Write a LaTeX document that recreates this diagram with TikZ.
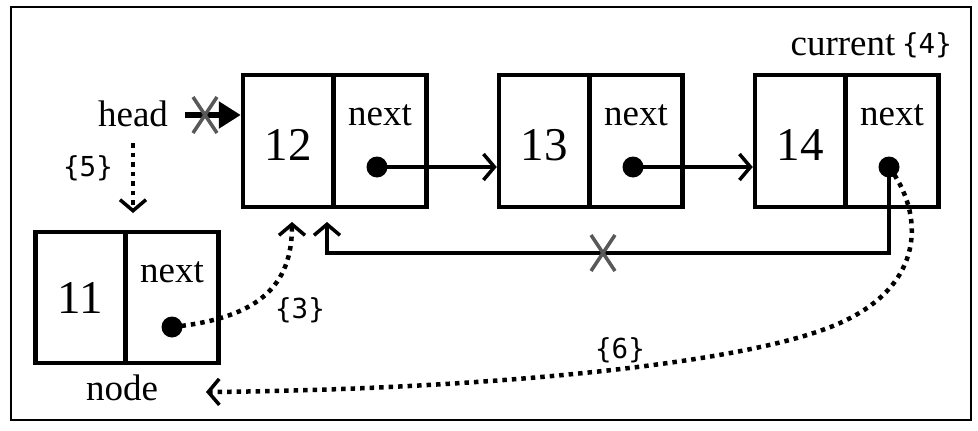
\documentclass[tikz,border=0pt]{standalone}
\usepackage{fontspec}
\setmainfont{Liberation Serif}
\newfontfamily\monof{DejaVu Sans Mono}
\usetikzlibrary{arrows.meta}
\begin{document}
\begin{tikzpicture}[x=1pt,y=-1pt,
  cell/.style={draw,line width=4.5pt,minimum height=132pt,inner sep=0pt},
  vcell/.style={cell,minimum width=90pt},
  ncell/.style={cell,minimum width=93pt},
  txt/.style={inner sep=0pt,font=\fontsize{37}{40}\selectfont},
  num/.style={inner sep=0pt,font=\fontsize{47}{50}\selectfont},
  mono/.style={inner sep=0pt,font=\monof\fontsize{27.5}{30}\selectfont},
  dot/.style={circle,fill=black,minimum size=21pt,inner sep=0pt},
  link/.style={line width=3.5pt,-{Straight Barb[length=11pt,width=26pt,line width=3.5pt]}},
  dotlink/.style={line width=4.5pt,dash pattern=on 4.5pt off 5pt,-{Straight Barb[length=11pt,width=26pt,line width=3.5pt]}},
  cross/.style={line width=3.5pt,draw=black!65}
]
\useasboundingbox (0,0) rectangle (978,431);
\draw[line width=2pt] (11,7) rectangle (971,420);

% node 12
\node[vcell] (v12) at (288,141) {};
\node[ncell] (p12) at (380,141) {};
\node[num] (t12) at (288,145) {12};
\node[txt] (x12) at (380,115) {next};
\node[dot] (d12) at (377,167) {};
% node 13
\node[vcell] (v13) at (544,141) {};
\node[ncell] (p13) at (636,141) {};
\node[num] (t13) at (544,145) {13};
\node[txt] (x13) at (636,115) {next};
\node[dot] (d13) at (633,167) {};
% node 14
\node[vcell] (v14) at (800,141) {};
\node[ncell] (p14) at (892,141) {};
\node[num] (t14) at (800,145) {14};
\node[txt] (x14) at (892,115) {next};
\node[dot] (d14) at (889,167) {};
% node 11
\node[vcell,minimum height=131pt] (v11) at (80.5,297.5) {};
\node[ncell,minimum height=131pt] (p11) at (172,297.5) {};
\node[num] (t11) at (80,298) {11};
\node[txt] (x11) at (172,272) {next};
\node[dot] (d11) at (172,327) {};

% labels
\node[txt] (head) at (133,114) {head};
\node[txt] (nodelbl) at (122,388) {node};
\node[txt] (cur) at (843,45) {current};
\node[mono] (l4) at (927,45) {\{4\}};
\node[mono] (l5) at (88,168) {\{5\}};
\node[mono] (l3) at (300,310) {\{3\}};
\node[mono] (l6) at (620,350) {\{6\}};

\coordinate (hs) at (185,115);
\coordinate (ret) at (327,222);
\coordinate (c5s) at (133,143);
\coordinate (c5e) at (133,213);
\coordinate (c3e) at (292,222);
\coordinate (c6m) at (840,323);
\coordinate (c6e) at (206,392);

% links
\draw[link] (d12.center) -- (v13.west |- d12);
\draw[link] (d13.center) -- (v14.west |- d13);
\draw[link] (d14.center) |- (327,253) -- (ret);
\draw[line width=5.5pt,-{Triangle[length=22pt,width=26pt]}] (hs) -- (v12.west |- hs);

% crosses
\draw[cross] (193,97) -- (217,133) (217,97) -- (193,133);
\draw[cross] (591,235) -- (615,271) (615,235) -- (591,271);

% dotted moves
\draw[dotlink] (c5s) -- (c5e);
\draw[dotlink] (d11.center) .. controls (260,318) and (292,285) .. (c3e);
\draw[dotlink] (d14.center) .. controls (925,215) and (925,285) .. (c6m) .. controls (740,368) and (450,390) .. (c6e);
\end{tikzpicture}
\end{document}
